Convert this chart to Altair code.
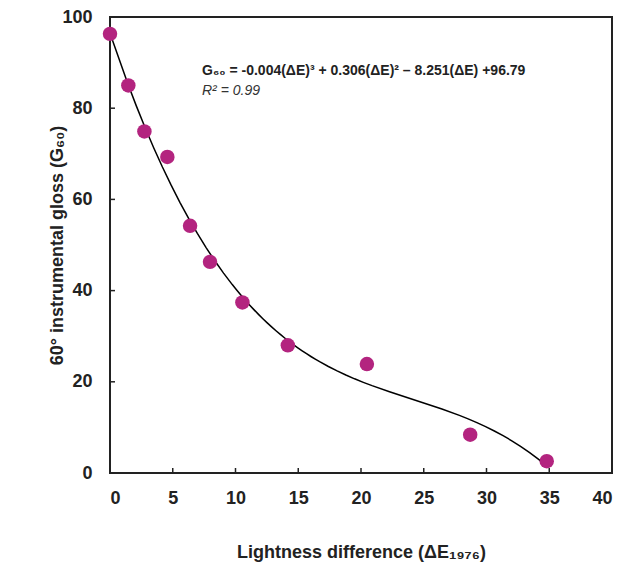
import altair as alt
import pandas as pd

delta_e = [0.0, 1.46, 2.74, 4.57, 6.38, 7.97, 10.55, 14.17, 20.47, 28.7, 34.8]
gloss = [96.3, 85.0, 74.9, 69.3, 54.2, 46.3, 37.4, 28.0, 23.9, 8.4, 2.6]

x_ticks = [0, 5, 10, 15, 20, 25, 30, 35, 40]
y_ticks = [0, 20, 40, 60, 80, 100]

eq_text = ["G₆₀ = -0.004(ΔE)³ + 0.306(ΔE)² – 8.251(ΔE) +96.79"]
r2_text = ["R² = 0.99"]

W, H = 502, 456
FONT = "Liberation Sans"

df = pd.DataFrame({"dE": delta_e, "G": gloss})

xs = alt.Scale(domain=[0, 40], nice=False)
ys = alt.Scale(domain=[0, 100], nice=False)

x_axis = alt.Axis(values=x_ticks, tickSize=0, labelPadding=16, domain=False, grid=False,
                  labelFont=FONT, labelFontSize=18, labelFontWeight="bold", labelColor="#222",
                  title="Lightness difference (ΔE₁₉₇₆)", titleFont=FONT, titleFontSize=18,
                  titleFontWeight="bold", titleColor="#222", titleX=W / 2, titleY=79,
                  titleBaseline="middle", titleAlign="center")
y_axis = alt.Axis(values=y_ticks, tickSize=0, labelPadding=18, domain=False, grid=False,
                  labelFont=FONT, labelFontSize=18, labelFontWeight="bold", labelColor="#222",
                  title="60° instrumental gloss (G₆₀)", titleFont=FONT, titleFontSize=18,
                  titleFontWeight="bold", titleColor="#222", titleX=-53, titleY=H / 2,
                  titleAngle=-90, titleBaseline="middle", titleAlign="center")

base = alt.Chart(df)

curve = base.transform_regression("dE", "G", method="poly", order=3, extent=[0, 34.8]).mark_line(
    color="black", strokeWidth=1.5
).encode(x=alt.X("dE:Q", scale=xs, axis=x_axis), y=alt.Y("G:Q", scale=ys, axis=y_axis))

points = base.mark_circle(size=210, color="#B3247F", opacity=1).encode(
    x=alt.X("dE:Q", scale=xs), y=alt.Y("G:Q", scale=ys)
)

xt = alt.Chart(pd.DataFrame({"v": x_ticks})).mark_rule(color="#222", strokeWidth=1.5).encode(
    x=alt.X("v:Q", scale=xs), y=alt.value(H), y2=alt.value(H - 5)
)
yt = alt.Chart(pd.DataFrame({"v": y_ticks})).mark_rule(color="#222", strokeWidth=1.5).encode(
    y=alt.Y("v:Q", scale=ys), x=alt.value(0), x2=alt.value(5)
)

eq = alt.Chart(pd.DataFrame({"t": eq_text, "x": [7.33], "y": [88.2]})).mark_text(
    align="left", baseline="middle", font=FONT, fontSize=14, fontWeight="bold", color="#222"
).encode(x=alt.X("x:Q", scale=xs), y=alt.Y("y:Q", scale=ys), text="t:N")

r2 = alt.Chart(pd.DataFrame({"t": r2_text, "x": [7.33], "y": [83.8]})).mark_text(
    align="left", baseline="middle", font=FONT, fontSize=14, fontStyle="italic", color="#333"
).encode(x=alt.X("x:Q", scale=xs), y=alt.Y("y:Q", scale=ys), text="t:N")

chart = alt.layer(curve, points, xt, yt, eq, r2).properties(
    width=W, height=H, autosize="none", background="white",
    padding={"left": 102, "top": 9, "right": 4, "bottom": 90},
).configure_view(stroke="#222", strokeWidth=2)

chart.save("out.html", embed_options={"renderer": "svg", "actions": False})
